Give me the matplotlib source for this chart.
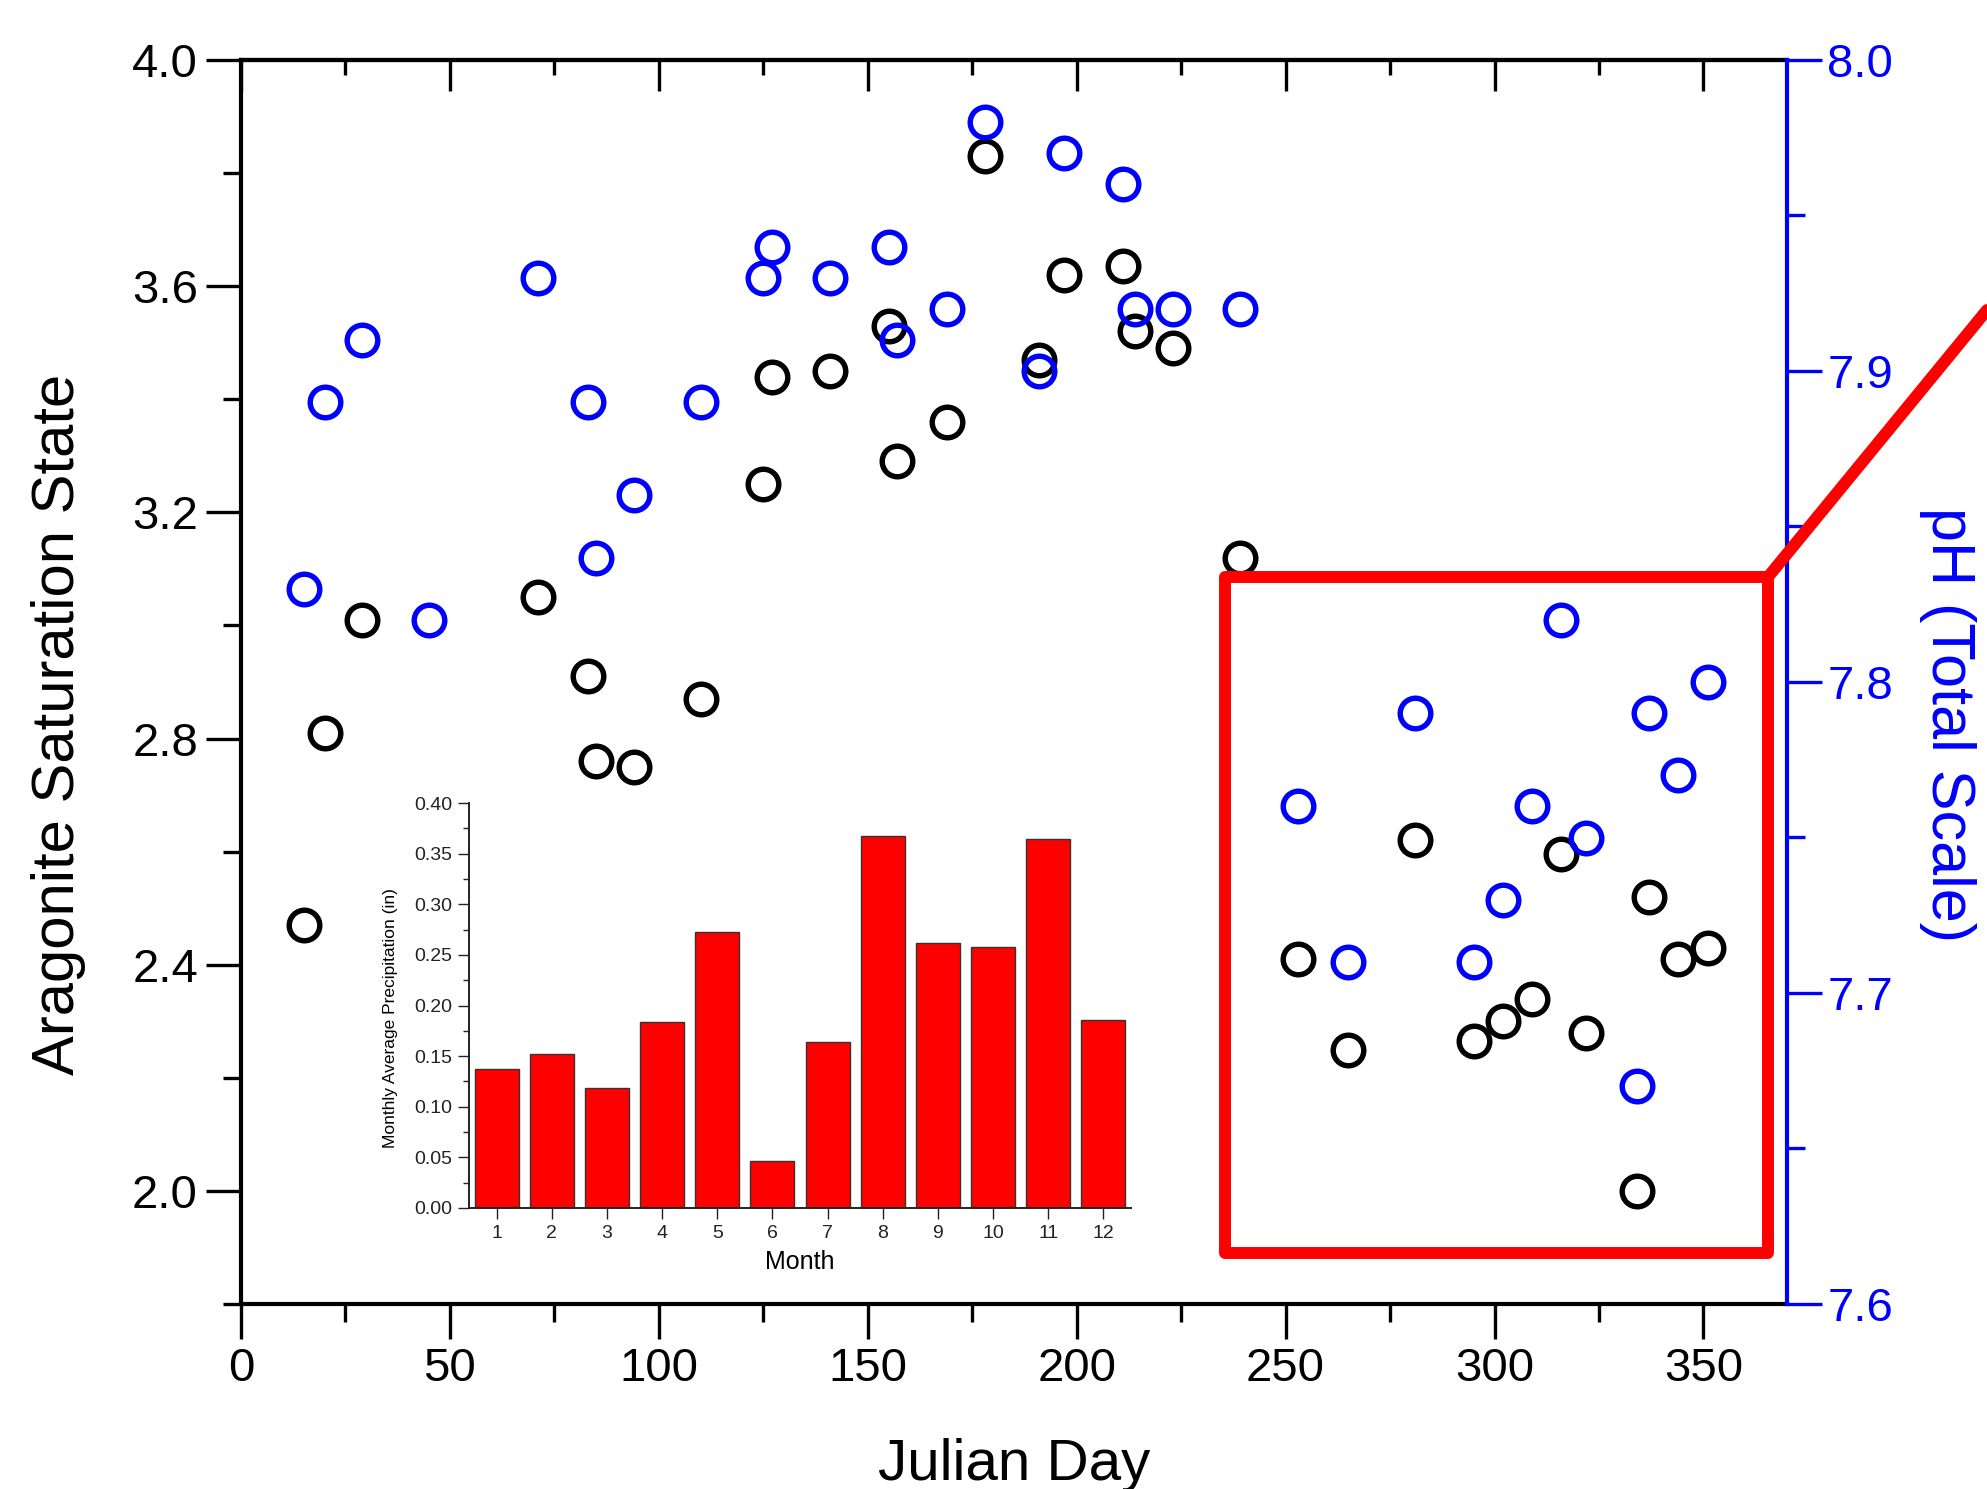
import matplotlib
matplotlib.use("Agg")
import matplotlib.pyplot as plt
from matplotlib.patches import Rectangle
from matplotlib.lines import Line2D
from matplotlib.ticker import MultipleLocator, FormatStrFormatter

plt.rcParams['font.family'] = ['Liberation Sans', 'DejaVu Sans']

# ---------------- data ----------------
arag_days = [15, 20, 29, 71, 83, 85, 94, 110, 125, 127, 141, 155, 157, 169, 178,
             191, 197, 211, 214, 223, 239, 253, 265, 281, 295, 302, 309, 316, 322,
             334, 337, 344, 351]
arag_vals = [2.47, 2.81, 3.01, 3.05, 2.91, 2.76, 2.75, 2.87, 3.25, 3.44, 3.45, 3.53,
             3.29, 3.36, 3.83, 3.47, 3.62, 3.635, 3.52, 3.49, 3.12, 2.41, 2.25, 2.62,
             2.265, 2.30, 2.34, 2.595, 2.28, 2.00, 2.52, 2.41, 2.43]

ph_days = [15, 20, 29, 45, 71, 83, 85, 94, 110, 125, 127, 141, 155, 157, 169, 178,
           191, 197, 211, 214, 223, 239, 253, 265, 281, 295, 302, 309, 316, 322,
           334, 337, 344, 351]
ph_vals = [7.83, 7.89, 7.91, 7.82, 7.93, 7.89, 7.84, 7.86, 7.89, 7.93, 7.94, 7.93,
           7.94, 7.91, 7.92, 7.98, 7.90, 7.97, 7.96, 7.92, 7.92, 7.92, 7.76, 7.71,
           7.79, 7.71, 7.73, 7.76, 7.82, 7.75, 7.67, 7.79, 7.77, 7.80]

months = [1, 2, 3, 4, 5, 6, 7, 8, 9, 10, 11, 12]
precip = [0.137, 0.152, 0.119, 0.184, 0.273, 0.046, 0.164, 0.367, 0.262, 0.258,
          0.364, 0.186]

x_ticks = [0, 50, 100, 150, 200, 250, 300, 350]
y_ticks = [2.0, 2.4, 2.8, 3.2, 3.6, 4.0]
ph_ticks = [7.6, 7.7, 7.8, 7.9, 8.0]

# ---------------- figure ----------------
W, H = 1987, 1489
fig = plt.figure(figsize=(W / 100, H / 100), dpi=100)

L, R, B, T = 241 / W, 1787 / W, 1 - 1304 / H, 1 - 60 / H
ax = fig.add_axes([L, B, R - L, T - B])
ax2 = ax.twinx()

blue = '#0000FF'
spw = 3.0

ax.plot(arag_days, arag_vals, 'o', mfc='none', mec='black', ms=22, mew=3.9,
        linestyle='none', zorder=3)
ax2.plot(ph_days, ph_vals, 'o', mfc='none', mec=blue, ms=22, mew=3.9,
         linestyle='none', zorder=3)

ax.set_xlim(0, 370)
ax.set_ylim(1.8, 4.0)
ax2.set_ylim(7.6, 8.0)

ax.set_xticks(x_ticks)
ax.xaxis.set_minor_locator(MultipleLocator(25))
ax.set_yticks(y_ticks)
ax.yaxis.set_major_formatter(FormatStrFormatter('%.1f'))
ax.yaxis.set_minor_locator(MultipleLocator(0.2))
ax2.set_yticks(ph_ticks)
ax2.yaxis.set_major_formatter(FormatStrFormatter('%.1f'))
ax2.yaxis.set_minor_locator(MultipleLocator(0.05))

for s in ['left', 'bottom', 'top']:
    ax.spines[s].set_linewidth(spw)
    ax.spines[s].set_color('black')
ax.spines['right'].set_visible(False)
for s in ['left', 'bottom', 'top']:
    ax2.spines[s].set_visible(False)
ax2.spines['right'].set_color(blue)
ax2.spines['right'].set_linewidth(spw)

ax.tick_params(axis='both', which='major', direction='out', length=25, width=2.4,
               labelsize=34, pad=6, colors='black')
ax.tick_params(axis='both', which='minor', direction='out', length=13, width=2.4)
ax.tick_params(axis='x', top=False)
ax.tick_params(axis='y', right=False)
ax2.tick_params(axis='y', which='major', direction='out', length=25, width=2.4,
                labelsize=34, pad=4, colors=blue)
ax2.tick_params(axis='y', which='minor', direction='out', length=13, width=2.4,
                colors=blue)

# top inward ticks
sec = ax.secondary_xaxis('top')
sec.set_xticks(x_ticks)
sec.xaxis.set_minor_locator(MultipleLocator(25))
sec.tick_params(axis='x', which='major', direction='in', length=22, width=2.4,
                labeltop=False)
sec.tick_params(axis='x', which='minor', direction='in', length=11, width=2.4)
sec.spines['top'].set_linewidth(spw)

ax.set_xlabel('Julian Day', fontsize=42)
ax.xaxis.set_label_coords(0.5, -0.108)
ax.set_ylabel('Aragonite Saturation State', fontsize=43, labelpad=33)
ax.yaxis.label.set_y(0.466)
ax2.set_ylabel('pH (Total Scale)', fontsize=44, color=blue, rotation=270,
               labelpad=60)
ax2.yaxis.label.set_y(0.466)

# ---------------- inset ----------------
iL, iR, iB, iT = 469 / W, 1131 / W, 1 - 1208 / H, 1 - 803 / H
axi = fig.add_axes([iL, iB, iR - iL, iT - iB])
axi.bar(months, precip, width=0.8, color='#FF0000', edgecolor='#333333',
        linewidth=1.0, zorder=2)
axi.set_xlim(0.5, 12.5)
axi.set_ylim(0, 0.40)
axi.set_xticks(months)
axi.set_yticks([0.0, 0.05, 0.10, 0.15, 0.20, 0.25, 0.30, 0.35, 0.40])
axi.yaxis.set_major_formatter(FormatStrFormatter('%.2f'))
axi.yaxis.set_minor_locator(MultipleLocator(0.025))
axi.spines['top'].set_visible(False)
axi.spines['right'].set_visible(False)
for s in ['left', 'bottom']:
    axi.spines[s].set_linewidth(1.4)
    axi.spines[s].set_color('#222222')
axi.tick_params(axis='both', which='major', direction='out', length=8, width=1.0,
                labelsize=14, pad=4, colors='#222222')
axi.tick_params(axis='y', which='minor', direction='out', length=4.5, width=1.0,
                colors='#222222')
axi.set_xlabel('Month', fontsize=18, labelpad=6)
axi.set_ylabel('Monthly Average Precipitation (in)', fontsize=12.5, labelpad=12)
axi.yaxis.label.set_y(0.47)
axi.patch.set_alpha(0)

# ---------------- red highlight box ----------------
rx0, rx1, ry0, ry1 = 1225, 1768, 577, 1253
rect = Rectangle((rx0 / W, 1 - ry1 / H), (rx1 - rx0) / W, (ry1 - ry0) / H,
                 transform=fig.transFigure, fill=False, edgecolor='#FF0000',
                 linewidth=8.6, joinstyle='round', zorder=10)
fig.add_artist(rect)
line = Line2D([rx1 / W, 1.0], [1 - ry0 / H, 1 - 310 / H], transform=fig.transFigure,
              color='#FF0000', linewidth=8.6, solid_capstyle='round', zorder=10)
fig.add_artist(line)

fig.savefig('out.png', dpi=100)
